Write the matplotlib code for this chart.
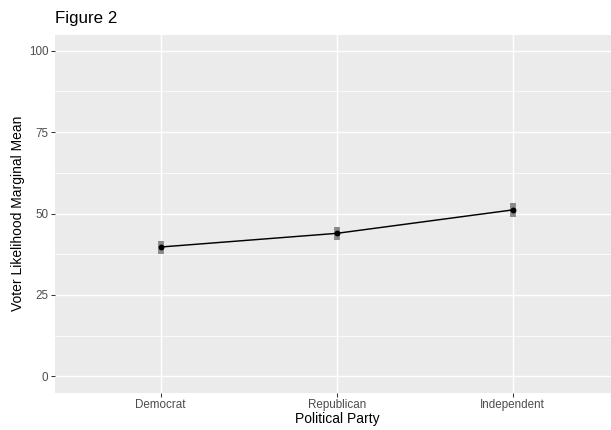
import matplotlib
matplotlib.use("Agg")
import matplotlib.pyplot as plt
import numpy as np

# marginal means by party, with lower/upper interval bounds
parties = ["Democrat", "Republican", "Independent"]
means = [39.7, 43.9, 51.1]
lower = [37.5, 41.8, 48.8]
upper = [41.5, 45.9, 53.3]
y_ticks = [0, 25, 50, 75, 100]

W, H = 611, 430
fig = plt.figure(figsize=(W / 100, H / 100), dpi=100)
fig.patch.set_facecolor("white")

# panel placed in pixel units
left, right, top, bottom = 55, 611, 34.5, 392.5
ax = fig.add_axes([left / W, (H - bottom) / H, (right - left) / W, (bottom - top) / H])
ax.set_facecolor("#EBEBEB")

x = np.arange(1, len(parties) + 1)
ax.set_xlim(0.4, 1 + (right - 160.7) / 176.0)
ax.set_ylim(-5, 105)

# white grid, minor lines halfway between majors
for v in y_ticks:
    ax.axhline(v, color="white", lw=1.05, zorder=1)
for v in np.arange(12.5, 100, 25):
    ax.axhline(v, color="white", lw=0.55, zorder=1)
for xi in x:
    ax.axvline(xi, color="white", lw=1.05, zorder=1)

ax.vlines(x, lower, upper, color="#8a8a8a", lw=4.2, capstyle="butt", zorder=2)
ax.plot(x, means, color="black", lw=1.05, zorder=3)
ax.scatter(x, means, s=18, color="black", zorder=4, linewidths=0)

for s in ax.spines.values():
    s.set_visible(False)

ax.set_xticks(x)
ax.set_xticklabels(parties)
ax.set_yticks(y_ticks)
ax.tick_params(axis="both", length=2.7, width=0.75, color="#333333",
               labelcolor="#4D4D4D", labelsize=8.4, pad=2)
for lab in ax.get_xticklabels() + ax.get_yticklabels():
    lab.set_family("Liberation Sans")

fig.text(337.5 / W, (H - 419) / H, "Political Party", ha="center", va="center",
         fontsize=10, family="Liberation Sans", color="black")
fig.text(18.5 / W, (H - 213.5) / H, "Voter Likelihood Marginal Mean", ha="center",
         va="center", rotation=90, fontsize=10, family="Liberation Sans", color="black")
fig.text(left / W, (H - 23) / H, "Figure 2", ha="left", va="baseline",
         fontsize=12.2, family="Liberation Sans", color="black")

fig.savefig("out.png", dpi=100)
